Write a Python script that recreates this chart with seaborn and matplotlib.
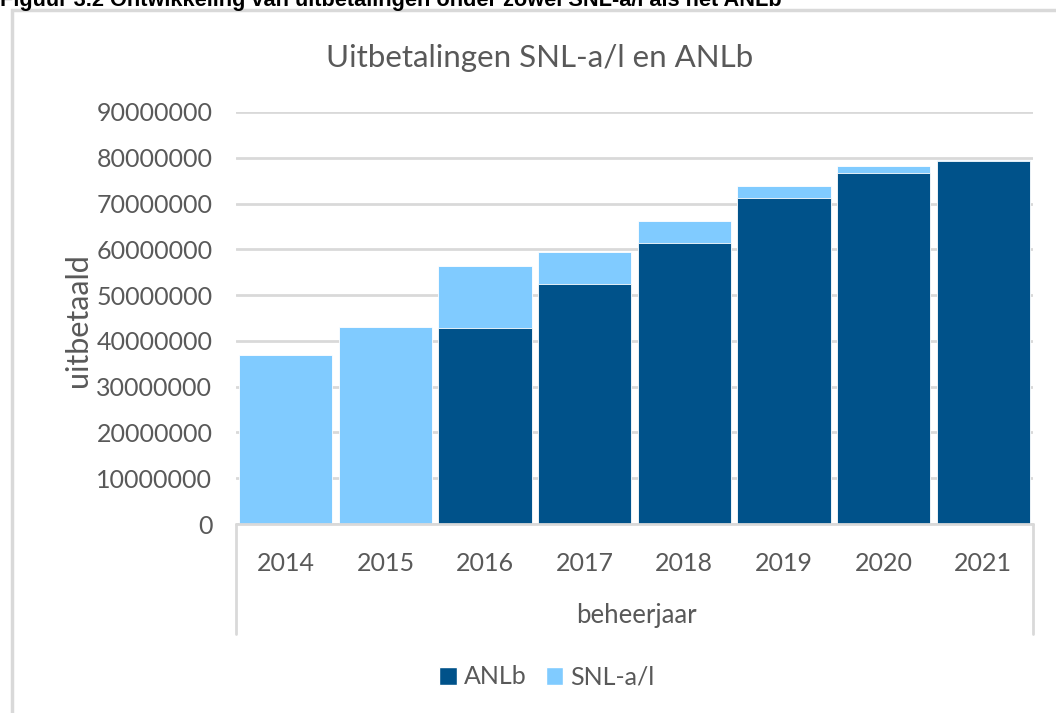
import matplotlib
matplotlib.use("Agg")
import matplotlib.pyplot as plt
from matplotlib.patches import Rectangle, Patch
from matplotlib.lines import Line2D
import seaborn as sns
import pandas as pd

# data
years = ["2014", "2015", "2016", "2017", "2018", "2019", "2020", "2021"]
anlb = [0, 0, 42.8e6, 52.4e6, 61.4e6, 71.2e6, 76.7e6, 79.3e6]
snl = [36.9e6, 43.0e6, 13.6e6, 7.0e6, 4.8e6, 2.6e6, 1.5e6, 0.2e6]
yticks = [0, 10e6, 20e6, 30e6, 40e6, 50e6, 60e6, 70e6, 80e6, 90e6]

DARK = "#00528A"
LIGHT = "#80CBFF"
GREY = "#595959"

sns.set_theme(style="white")
plt.rcParams["font.family"] = ["Lato", "DejaVu Sans"]

df = pd.DataFrame({"jaar": years, "ANLb": anlb, "SNL": snl})
df["totaal"] = df["ANLb"] + df["SNL"]

fig = plt.figure(figsize=(10.56, 7.13), dpi=100)
ax = fig.add_axes([236 / 1056, 1 - 524 / 713, (1033 - 236) / 1056, (524 - 112) / 713])

# stacked: total in light blue, ANLb on top of it in dark blue
sns.barplot(data=df, x="jaar", y="totaal", color=LIGHT, width=0.935,
            saturation=1, edgecolor="white", linewidth=0.6, ax=ax)
sns.barplot(data=df, x="jaar", y="ANLb", color=DARK, width=0.935,
            saturation=1, edgecolor="white", linewidth=0.6, ax=ax)

ax.set_ylim(0, 90e6)
ax.set_xlim(-0.5, len(years) - 0.5)
ax.set_yticks(yticks)
ax.set_yticklabels([f"{int(v)}" for v in yticks], fontsize=18, color=GREY)
ax.yaxis.grid(True, color="#d9d9d9", linewidth=2)
ax.set_axisbelow(True)
for s in ax.spines.values():
    s.set_visible(False)
ax.tick_params(axis="y", length=0, pad=17)
ax.tick_params(axis="x", length=0, pad=20, labelsize=18, labelcolor=GREY)
ax.set_xlabel("")
ax.set_ylabel("")

# category axis box (multi-level style)
for xf in (236 / 1056, 1033 / 1056):
    fig.add_artist(Line2D([xf, xf], [1 - 524 / 713, 1 - 634 / 713],
                          color="#d9d9d9", linewidth=2, transform=fig.transFigure))
fig.add_artist(Line2D([236 / 1056, 1033 / 1056], [1 - 524 / 713, 1 - 524 / 713],
                      color="#d9d9d9", linewidth=2, transform=fig.transFigure))

fig.text(636 / 1056, 1 - 616 / 713, "beheerjaar", ha="center", va="center",
         fontsize=18.5, color=GREY)
fig.text(78 / 1056, 1 - 320 / 713, "uitbetaald", ha="center", va="center",
         rotation=90, fontsize=22, color=GREY)
fig.text(540 / 1056, 1 - 58 / 713, "Uitbetalingen SNL-a/l en ANLb", ha="center",
         va="center", fontsize=22.5, color=GREY)

handles = [Patch(facecolor=DARK, label="ANLb"), Patch(facecolor=LIGHT, label="SNL-a/l")]
fig.legend(handles=handles, loc="center", bbox_to_anchor=(547 / 1056, 1 - 677 / 713),
           ncol=2, frameon=False, fontsize=18, labelcolor=GREY, handlelength=0.7,
           handleheight=0.7, handletextpad=0.3, columnspacing=0.75)

# outer chart border and clipped caption (cut off at the top, as in the source)
fig.add_artist(Rectangle((12 / 1056, -0.01), 1.0, 1 - 10 / 713 + 0.01, fill=False,
                         edgecolor="#d9d9d9", linewidth=2.5, transform=fig.transFigure))
fig.text(0.0, 1 - 6 / 713, "Figuur 3.2 Ontwikkeling van uitbetalingen onder zowel SNL-a/l als het ANLb",
         ha="left", va="baseline", fontsize=15.7, fontweight="bold",
         family=["Liberation Sans", "DejaVu Sans"], color="black")

fig.savefig("out.png", dpi=100)
